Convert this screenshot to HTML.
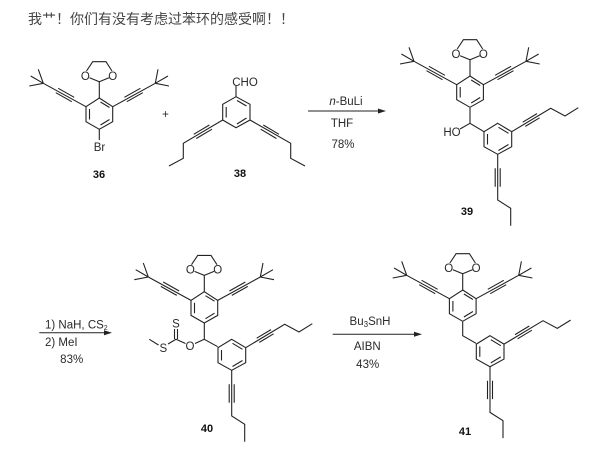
<!DOCTYPE html>
<html><head><meta charset="utf-8"><style>
html,body{margin:0;padding:0;background:#fff}
svg{display:block;filter:blur(0.3px)}
.t{font:11.5px "Liberation Sans",sans-serif;fill:#2a2a2a}
.m{text-anchor:middle}
.b{font:bold 11px "Liberation Sans",sans-serif;fill:#111;text-anchor:middle}
.h{font:14px "Noto Sans CJK SC","WenQuanYi Zen Hei",sans-serif;fill:#444}
</style></head><body>
<svg width="602" height="462" viewBox="0 0 602 462" xmlns="http://www.w3.org/2000/svg">
<defs>
<g id="A" fill="none" stroke="#222" stroke-width="1.1">
<path d="M99.3 98L112.7 106.7V121.7L99.3 129.3L86 121.7V106.7Z"/>
<path d="M89.5 109V119.5M100.5 102L109.5 107.5M109.5 119.5L100.5 125"/>
<path d="M99.3 98V81.7L89.5 77.7M99.3 81.7L109 77.7M86.5 71L92.7 61.7H106L112 71"/>
<path d="M86 106.7L43.3 83.3M58.2 88.3L74.2 97.3M55.8 92.7L71.8 101.7"/>
<path d="M43.3 83.3L38.3 69.3M43.3 83.3L30.7 76M43.3 83.3L29.3 86"/>
<path d="M112.7 106.7L155.3 83.3M140.4 88.3L124.4 97.3M142.8 92.7L126.8 101.7"/>
<path d="M155.3 83.3L158 69.3M155.3 83.3L168 76M155.3 83.3L169 86"/>
</g>
<g id="B" fill="none" stroke="#222" stroke-width="1.1">
<path d="M497.7 123.3L511.7 131.7V146.7L497.7 154.3L484 146.7V131.7Z"/>
<path d="M487.5 134V144.5M498.5 127.3L508.5 133.3M508.5 144.5L498.5 150.5"/>
<path d="M511.7 131.7L550.7 108.3L565 116L578.3 107.7M525.3 126.4L539.6 117.8M522.7 122.2L537 113.6"/>
<path d="M497.7 154.3V200L510.7 208.3V225.7M495.2 168.3V186.7M500.2 168.3V186.7"/>
</g>
</defs>

<text class="h" x="28" y="24">我艹！你们有没有考虑过苯环的感受啊！！</text>

<!-- 36 -->
<use href="#A"/>
<text class="t m" x="85.3" y="80">O</text><text class="t m" x="112.7" y="80">O</text>
<path d="M99.3 129.3V140" stroke="#222" stroke-width="1.1" fill="none"/>
<text class="t m" x="99.5" y="151">Br</text>
<text class="b" x="99" y="178">36</text>
<text class="t m" x="165.5" y="118">+</text>

<!-- 38 -->
<g fill="none" stroke="#222" stroke-width="1.1">
<path d="M236 96.7L250 104.3V120L236 127.7L222.7 120V104.3Z"/>
<path d="M226.2 107V117.5M237 100.5L246.5 106M246.5 118L237 124"/>
<path d="M236 96.7V86"/>
<path d="M222.7 120L183.3 143.3V158.3L169 166M212 129.2L196.3 138.5M209.4 125L193.7 134.3"/>
<path d="M250 120L290.7 143.3V158.3L305 166M260.7 129.2L276.4 138.5M263.3 125L279 134.3"/>
</g>
<text class="t m" x="245" y="86">CHO</text>
<text class="b" x="240" y="177">38</text>

<!-- arrow 1 -->
<path d="M308 111H382" stroke="#222"/><path d="M386 111L378 108.5V113.5Z" fill="#222"/>
<text class="t m" x="346" y="105"><tspan font-style="italic">n</tspan>-BuLi</text>
<text class="t m" x="342" y="127">THF</text>
<text class="t m" x="343" y="148">78%</text>

<!-- 39 -->
<g transform="translate(370.7,-22)"><use href="#A"/>
<text class="t m" x="85.3" y="80">O</text><text class="t m" x="112.7" y="80">O</text></g>
<use href="#B"/>
<path d="M470 107.7V123.3L484 131.7M470 123.3L460 129" stroke="#222" stroke-width="1.1" fill="none"/>
<text class="t m" x="452" y="136">HO</text>
<text class="b" x="467" y="215">39</text>

<!-- arrow 2 -->
<path d="M39.3 332.7H108" stroke="#222"/><path d="M112 332.7L104 330.2V335.2Z" fill="#222"/>
<text class="t" x="45" y="328.5">1) NaH, CS<tspan font-size="7" dy="1.5">2</tspan></text>
<text class="t" x="45" y="346">2) MeI</text>
<text class="t m" x="71.7" y="363">83%</text>

<!-- 40 -->
<g transform="translate(105,193.7)"><use href="#A"/>
<text class="t m" x="85.3" y="80">O</text><text class="t m" x="112.7" y="80">O</text></g>
<g transform="translate(-266,216)"><use href="#B"/></g>
<g fill="none" stroke="#222" stroke-width="1.1">
<path d="M204.3 323.3V339.3L217.7 346.7M204.3 339.3L195 343.5M185.5 343.5L176 339.3L168 344"/>
<path d="M174.5 339V329M177.5 339V329"/>
<path d="M158.5 345L149.3 339.3"/>
</g>
<text class="t m" x="176" y="327.5">S</text>
<text class="t m" x="190" y="350">O</text>
<text class="t m" x="163.3" y="352">S</text>
<text class="b" x="207" y="432">40</text>

<!-- arrow 3 -->
<path d="M332.7 334.3H418" stroke="#222"/><path d="M422 334.3L414 331.8V336.8Z" fill="#222"/>
<text class="t m" x="370" y="325">Bu<tspan font-size="8" dy="2">3</tspan><tspan dy="-2">SnH</tspan></text>
<text class="t m" x="367.3" y="350">AIBN</text>
<text class="t m" x="367.7" y="368">43%</text>

<!-- 41 -->
<g transform="translate(363.4,192)"><use href="#A"/>
<text class="t m" x="85.3" y="80">O</text><text class="t m" x="112.7" y="80">O</text></g>
<g transform="translate(-7.7,212.4)"><use href="#B"/></g>
<path d="M462.7 321.7V335.7L476 343.3" stroke="#222" stroke-width="1.1" fill="none"/>
<text class="b" x="465" y="435">41</text>
</svg>
</body></html>
